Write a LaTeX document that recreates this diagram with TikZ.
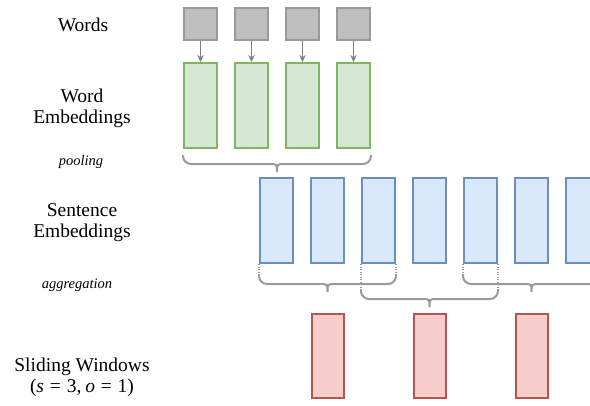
\documentclass[tikz,border=0pt]{standalone}
\usepackage{fontspec}
\setmainfont{Liberation Serif}
\usetikzlibrary{arrows.meta,calc}
\definecolor{grayfill}{HTML}{BFBFBF}
\definecolor{graydraw}{HTML}{999999}
\definecolor{greenfill}{HTML}{D5E8D4}
\definecolor{greendraw}{HTML}{82B366}
\definecolor{bluefill}{HTML}{DAE8FC}
\definecolor{bluedraw}{HTML}{6C8EBF}
\definecolor{redfill}{HTML}{F8CECC}
\definecolor{reddraw}{HTML}{B85450}
\definecolor{linegray}{HTML}{9A9A9A}
\definecolor{arrowgray}{HTML}{808080}
\tikzset{
  box/.style={draw, line width=2pt, inner sep=0pt, minimum width=33pt},
  wordbox/.style={box, fill=grayfill, draw=graydraw, minimum height=32pt},
  wembbox/.style={box, fill=greenfill, draw=greendraw, minimum height=85pt},
  sembbox/.style={box, fill=bluefill, draw=bluedraw, minimum height=85pt},
  winbox/.style={box, fill=redfill, draw=reddraw, minimum width=32pt, minimum height=84pt},
  label/.style={align=center, font=\fontsize{19.5}{21}\selectfont},
  small/.style={font=\fontsize{14.5}{16}\selectfont\itshape},
  arr/.style={draw=arrowgray, line width=1.5pt, -{Stealth[length=7pt,width=6.5pt]}},
  dotline/.style={draw=linegray, line width=1.2pt, dash pattern=on 1.2pt off 1.3pt},
  bracestyle/.style={draw=linegray, line width=2pt},
  brace/.style={to path={
    let \p1=(\tikztostart), \p2=(\tikztotarget), \n1={(\x1+\x2)/2} in
    (\p1) -- (\x1,\y1-1pt) arc[start angle=180,end angle=270,radius=8pt]
    -- (\n1-8pt,\y1-9pt) .. controls (\n1,\y1-9pt) .. (\n1,\y1-17pt)
    .. controls (\n1,\y1-9pt) .. (\n1+8pt,\y1-9pt)
    -- (\x2-8pt,\y1-9pt) arc[start angle=270,end angle=360,radius=8pt]
    -- (\p2)}}
}
\begin{document}
\begin{tikzpicture}[x=1pt,y=-1pt]
\clip (0,0) rectangle (590,405);
% labels
\node[label] (lw) at (83,25) {Words};
\node[label] (lwe) at (82,108) {Word\\Embeddings};
\node[small] (lp) at (81,162) {pooling};
\node[label] (lse) at (82,223) {Sentence\\Embeddings};
\node[small] (la) at (77,285) {aggregation};
\node[label] (lsw) at (82,377) {Sliding Windows\\(\textit{s}\hspace{0.3em}=\hspace{0.3em}3,\hspace{0.2em}\textit{o}\hspace{0.3em}=\hspace{0.3em}1)};
% words and word embeddings
\foreach \i/\x in {1/200.5,2/251.5,3/302.5,4/353.5}{
  \node[wordbox] (w\i) at (\x,24) {};
  \node[wembbox] (g\i) at (\x,105.5) {};
  \draw[arr] (w\i) -- (g\i);
}
% sentence embeddings
\foreach \i/\x in {1/276.5,2/327.5,3/378.5,4/429.5,5/480.5,6/531.5,7/582.5}{
  \node[sembbox] (s\i) at (\x,220.5) {};
}
% windows
\node[winbox] (r1) at (327.5,356) {};
\node[winbox] (r2) at (429.5,356) {};
\node[winbox] (r3) at (531.5,356) {};
% pooling brace
\coordinate (pl) at ([yshift=-6pt]g1.south west);
\coordinate (pr) at ([yshift=-6pt]g4.south east);
\draw[bracestyle] (pl) to[brace] (pr);
% aggregation braces
\coordinate (a1l) at ([yshift=-11pt]s1.south west);
\coordinate (a1r) at ([yshift=-11pt]s3.south east);
\coordinate (a2l) at ([yshift=-26pt]s3.south west);
\coordinate (a2r) at ([yshift=-26pt]s5.south east);
\coordinate (a3l) at ([yshift=-11pt]s5.south west);
\coordinate (a3r) at ([yshift=-11pt]s7.south east);
\draw[dotline] (s1.south west) -- (a1l);
\draw[dotline] (s3.south east) -- (a1r);
\draw[dotline] (s3.south west) -- (a2l);
\draw[dotline] (s5.south east) -- (a2r);
\draw[dotline] (s5.south west) -- (a3l);
\draw[dotline] (s7.south east) -- (a3r);
\draw[bracestyle] (a1l) to[brace] (a1r);
\draw[bracestyle] (a2l) to[brace] (a2r);
\draw[bracestyle] (a3l) to[brace] (a3r);
\end{tikzpicture}
\end{document}
